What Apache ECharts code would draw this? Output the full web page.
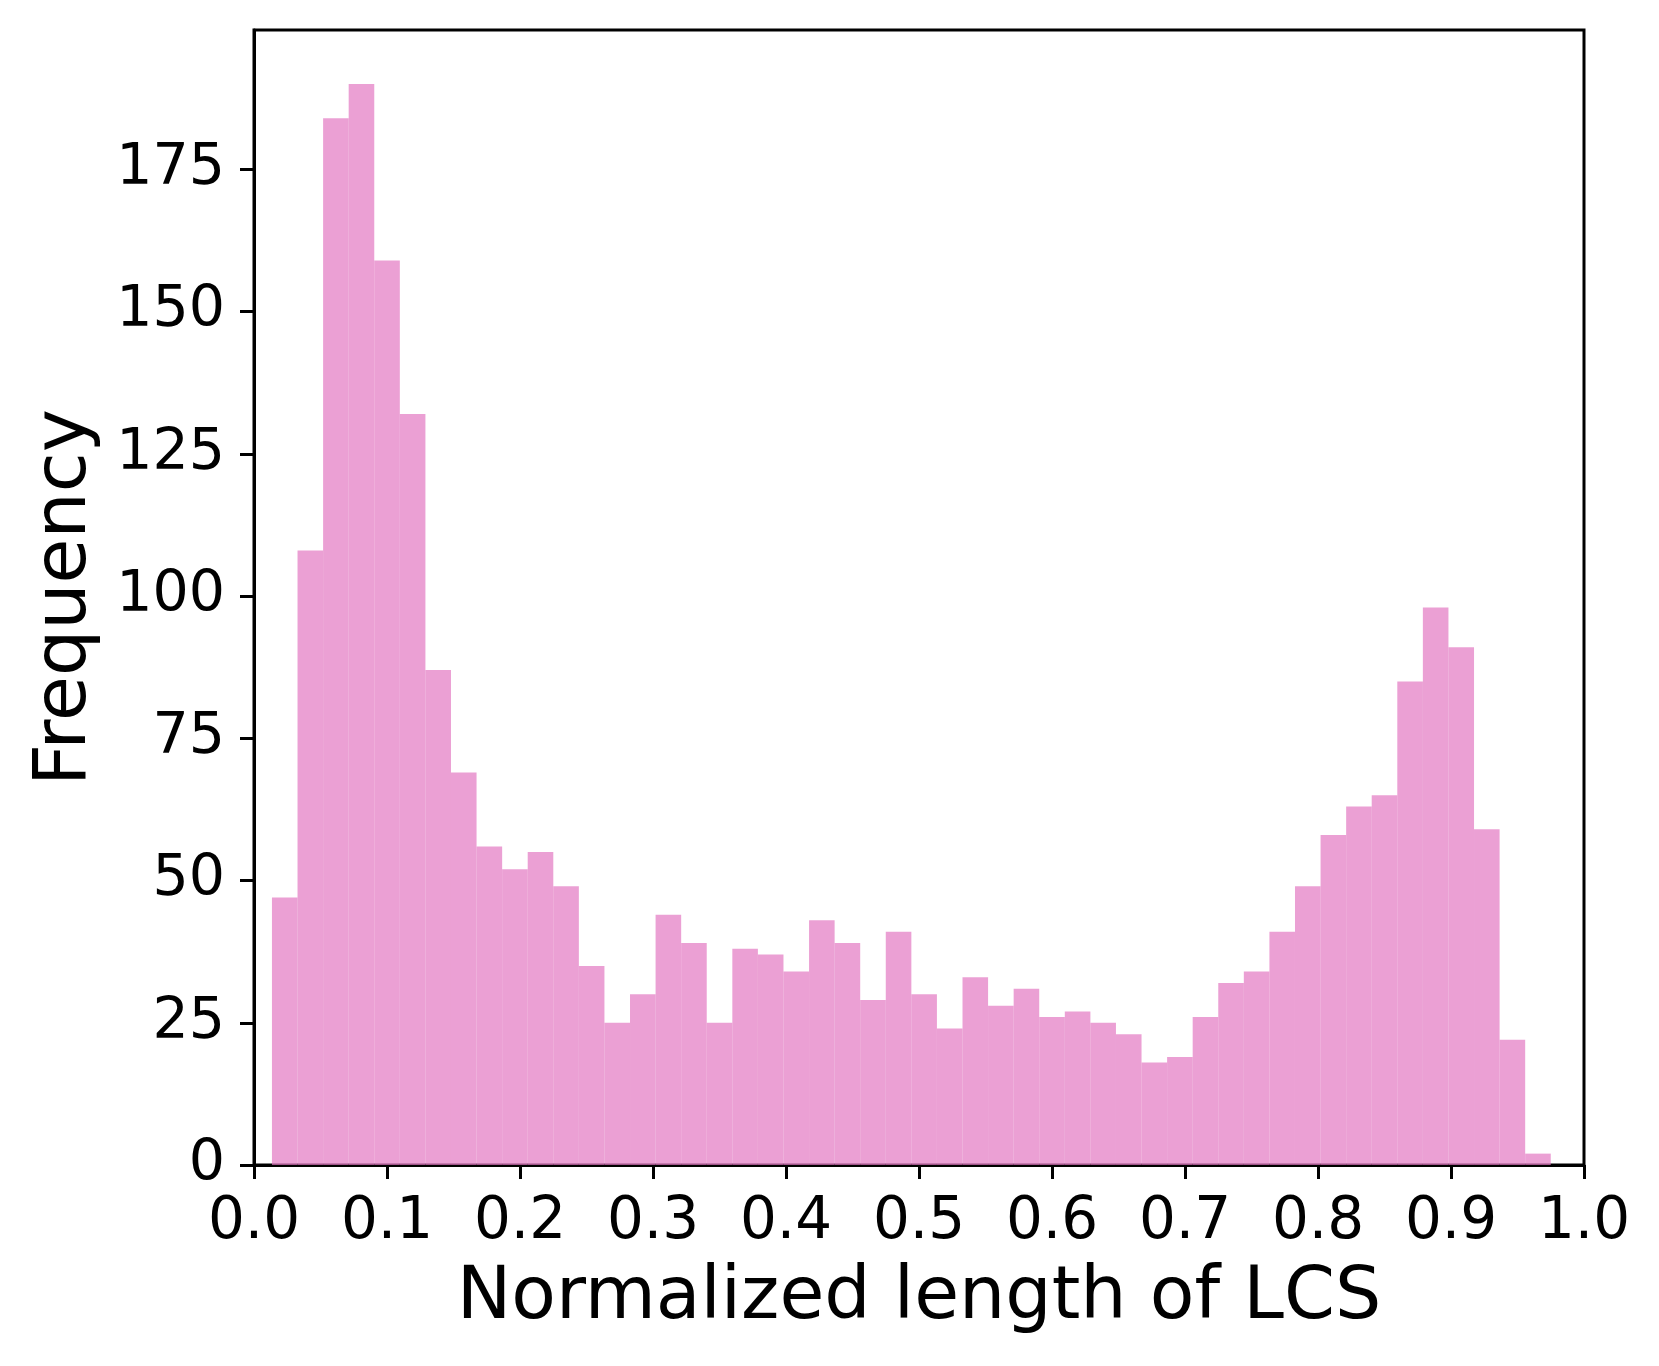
<!DOCTYPE html>
<html>
<head>
<meta charset="utf-8">
<script src="https://cdn.jsdelivr.net/npm/echarts@6/dist/echarts.min.js"></script>
<style>
  html, body { margin: 0; padding: 0; background: #fff; }
  #chart { width: 1659px; height: 1366px; }
</style>
</head>
<body>
<div id="chart"></div>
<script>
// Histogram counts (50 bins)
const counts = [47, 108, 184, 190, 159, 132, 87, 69, 56, 52,
                55, 49, 35, 25, 30, 44, 39, 25, 38, 37,
                34, 43, 39, 29, 41, 30, 24, 33, 28, 31,
                26, 27, 25, 23, 18, 19, 26, 32, 34, 41,
                49, 58, 63, 65, 85, 98, 91, 59, 22, 2];
// Histogram range (data min / max)
const histMin = 0.0135;
const histMax = 0.975;
const xTicks = [0.0, 0.1, 0.2, 0.3, 0.4, 0.5, 0.6, 0.7, 0.8, 0.9, 1.0];
const yTicks = [0, 25, 50, 75, 100, 125, 150, 175];
const xLabelText = 'Normalized length of LCS';
const yLabelText = 'Frequency';

const nBins = counts.length;
const binW = (histMax - histMin) / nBins;
const barData = counts.map((c, i) => [histMin + i * binW, histMin + (i + 1) * binW, c]);

const FONT = 'DejaVu Sans';
const chart = echarts.init(document.getElementById('chart'), null, { renderer: 'canvas' });
chart.setOption({
  animation: false,
  backgroundColor: '#ffffff',
  grid: {
    left: 254, right: 75, top: 30, bottom: 201,
    show: true, borderColor: '#000', borderWidth: 3, backgroundColor: 'transparent'
  },
  xAxis: {
    type: 'value', min: 0, max: 1, interval: 0.1,
    name: xLabelText, nameLocation: 'middle', nameGap: 98,
    nameTextStyle: { fontFamily: FONT, fontSize: 73, color: '#000' },
    axisLine: { show: true, onZero: false, lineStyle: { color: '#000', width: 3 } },
    axisTick: { show: true, inside: false, length: 14, lineStyle: { color: '#000', width: 3 }, customValues: xTicks },
    axisLabel: { fontFamily: FONT, fontSize: 58, color: '#000', margin: 29,
      customValues: xTicks, formatter: v => v.toFixed(1) },
    splitLine: { show: false }
  },
  yAxis: {
    type: 'value', min: 0, max: 199.5, interval: 25,
    name: yLabelText, nameLocation: 'middle', nameGap: 151, nameRotate: 90,
    nameTextStyle: { fontFamily: FONT, fontSize: 73, color: '#000' },
    axisLine: { show: true, lineStyle: { color: '#000', width: 3 } },
    axisTick: { show: true, inside: false, length: 14, lineStyle: { color: '#000', width: 3 }, customValues: yTicks },
    axisLabel: { fontFamily: FONT, fontSize: 57, color: '#000', margin: 29,
      customValues: yTicks, formatter: v => String(v) },
    splitLine: { show: false }
  },
  series: [{
    type: 'custom',
    data: barData,
    encode: { x: [0, 1], y: 2 },
    renderItem: function (params, api) {
      const p0 = api.coord([api.value(0), 0]);
      const p1 = api.coord([api.value(1), api.value(2)]);
      return {
        type: 'rect',
        shape: { x: p0[0], y: p1[1], width: p1[0] - p0[0], height: p0[1] - p1[1] },
        style: { fill: 'rgba(227,119,194,0.7)' }
      };
    },
    z: 1
  }]
});
</script>
</body>
</html>
